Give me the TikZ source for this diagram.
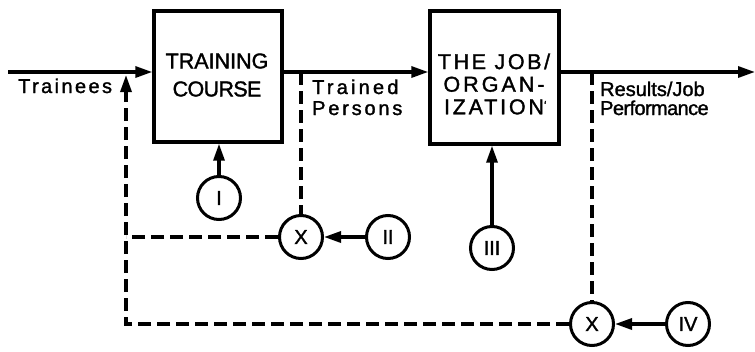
\documentclass[tikz,border=0pt]{standalone}
\usepackage{fontspec}
\setmainfont{Liberation Sans}[FakeBold=1.5]
\usetikzlibrary{arrows.meta}
\newcommand{\lsp}[2]{{\addfontfeatures{LetterSpace=#1}#2}}
\begin{document}
\begin{tikzpicture}[x=1pt,y=-1pt,
  tip/.style={-{Triangle[length=17pt,width=11pt]}},
  mainln/.style={line width=3.2pt,tip},
  fb/.style={line width=3.2pt,dash pattern=on 13pt off 6pt},
  blk/.style={draw,line width=3.4pt,inner sep=0pt},
  blktxt/.style={inner sep=0pt,align=center,font=\fontsize{21.5}{28}\selectfont},
  circ/.style={draw,circle,line width=3pt,minimum size=43pt,inner sep=0pt,
    font=\fontsize{20}{22}\selectfont},
  lbl/.style={anchor=base west,inner sep=0pt,font=\fontsize{20}{22}\selectfont}]
\useasboundingbox (0,0) rectangle (755,351);
% blocks
\node[blk,minimum width=128pt,minimum height=131pt] (course) at (218,76.5) {};
\node[blk,minimum width=129pt,minimum height=133pt] (job) at (494.5,77.5) {};
\node[blktxt] (coursetxt) at (217,75) {\lsp{0}{TRAINING}\\\lsp{-3}{COURSE}};
\node[blktxt,font=\fontsize{21.5}{22.6}\selectfont] (jobtxt) at (494,84)
  {\lsp{12}{THE JOB/}\\\lsp{14}{ORGAN-}\\\lsp{13}{IZATION}\rlap{\raisebox{5pt}{\fontsize{12}{12}\selectfont\symbol{"60}}}};
% circles
\node[circ] (c1) at (219,198) {I};
\node[circ] (x1) at (301,237) {X};
\node[circ] (c2) at (388,237) {II};
\node[circ] (c3) at (492,248) {III};
\node[circ] (x2) at (592,324) {X};
\node[circ] (c4) at (688,324) {IV};
% labels
\node[lbl] (ltr) at (18,93) {\lsp{12}{Trainees}};
\node[lbl] (ltp1) at (312,94) {\lsp{16}{Trained}};
\node[lbl] (ltp2) at (312,115) {\lsp{14}{Persons}};
\node[lbl] (lrj1) at (600,96) {\lsp{0}{Results/Job}};
\node[lbl] (lrj2) at (600,115) {\lsp{-3}{Performance}};
% coordinates
\coordinate (start) at (8,72);
\coordinate (finish) at (755,72);
\coordinate (lc) at (126,75);
% main flow
\draw[mainln] (start) -- (course.west |- start);
\draw[mainln] (course.east |- start) -- (job.west |- start);
\draw[mainln] (job.east |- start) -- (finish);
% inputs
\draw[mainln] (c1.north) -- (c1.north |- course.south);
\draw[mainln] (c3.north) -- (c3.north |- job.south);
\draw[mainln] (c2.west) -- (x1.east);
\draw[mainln] (c4.west) -- (x2.east);
% feedback
\draw[fb] (x1.north |- start) -- (x1.north);
\draw[fb] (x1.west) -- (x1.west -| lc);
\draw[fb] (x2.north |- start) -- (x2.north);
\draw[fb,tip] (x2.west) -- (x2.west -| lc) -- (lc);
\end{tikzpicture}
\end{document}
